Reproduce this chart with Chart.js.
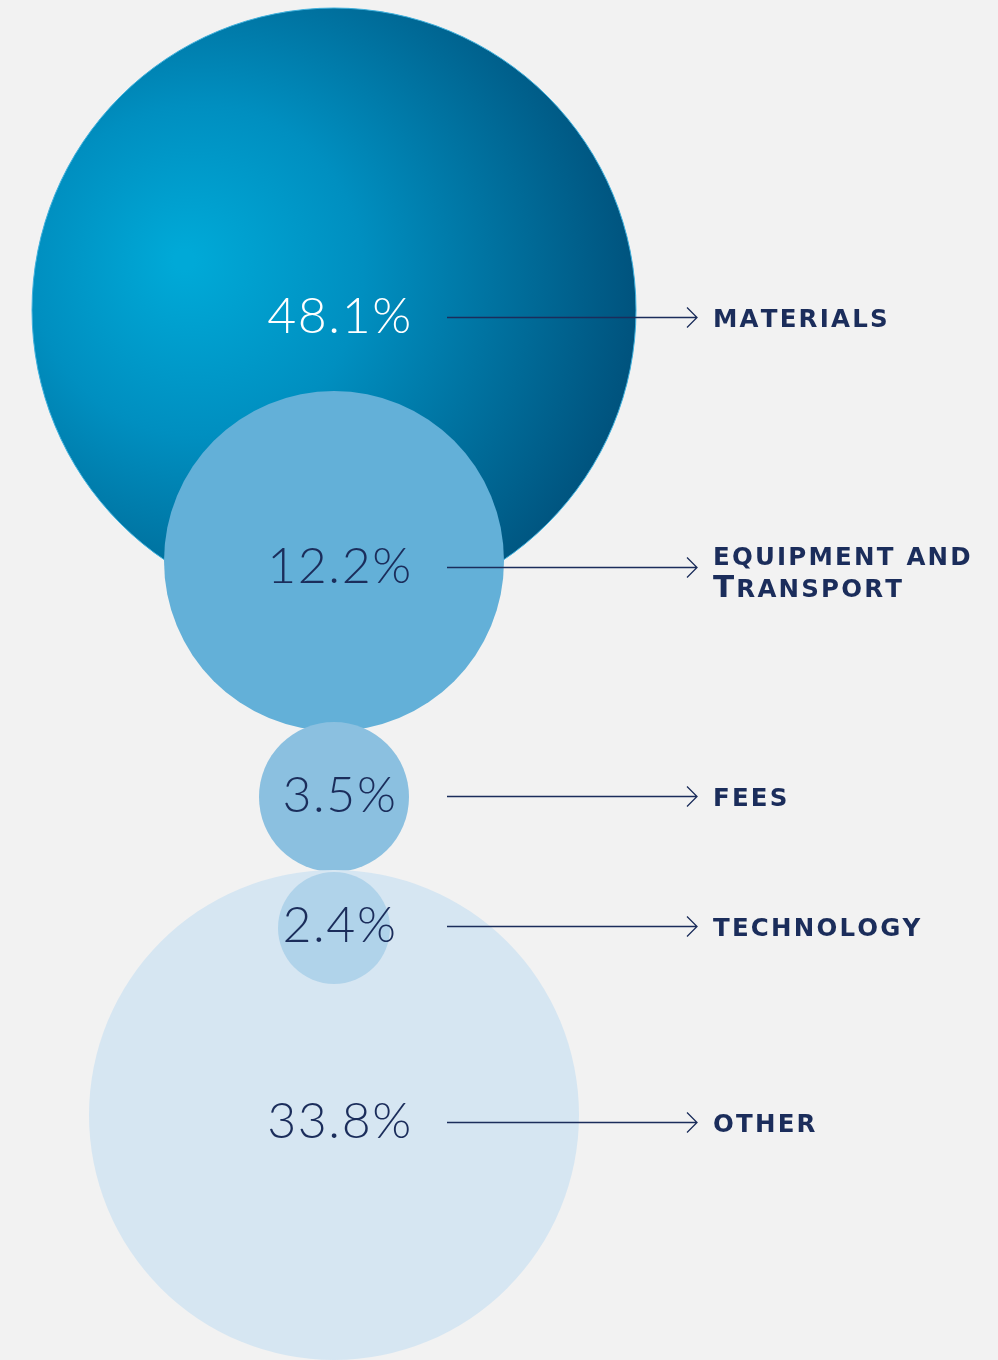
<!DOCTYPE html>
<html>
<head>
<meta charset="utf-8">
<script src="https://cdn.jsdelivr.net/npm/chart.js@4.4.1/dist/chart.umd.min.js"></script>
<style>
  html, body { margin: 0; padding: 0; background: #f2f2f2; }
  canvas { display: block; }
</style>
</head>
<body>
<canvas id="bubbles" width="998" height="1360"></canvas>
<script>
// data
var categories = ['materials', 'equipment and\nTransport', 'fees', 'technology', 'other'];
var shares = [48.1, 12.2, 3.5, 2.4, 33.8];

// layout (canvas units, the scales run 0..998 and 0..1360)
var bubbleX = 334;
var bubbleY = [310, 561, 797, 928, 1115];
var bubbleR = [302, 170, 75, 56, 245];
var labelShift = [7, 6, -1, -2, 7];   // label row relative to bubble centre
var drawOrder = [4, 3, 2, 0, 1];      // lower = on top
var fills = ['gradient', '#63b0d8', '#8bc0e0', '#b0d3ea', '#d6e6f2'];
var navy = '#1b2d5b';

function materialsGradient(context) {
    var chart = context.chart;
    if (!chart.scales || !chart.scales.x) return '#0089bd';
    var cx = chart.scales.x.getPixelForValue(bubbleX);
    var cy = chart.scales.y.getPixelForValue(bubbleY[0]);
    if (!isFinite(cx) || !isFinite(cy)) return '#0089bd';
    var r = bubbleR[0];
    var g = chart.ctx.createRadialGradient(cx - 150, cy - 50, 10, cx - 110, cy - 20, r * 1.5);
    g.addColorStop(0, '#00a9d7');
    g.addColorStop(0.35, '#008fc0');
    g.addColorStop(0.7, '#006a97');
    g.addColorStop(1, '#004a74');
    return g;
}

var datasets = categories.map(function (c, i) {
    return {
        label: c,
        data: [{ x: bubbleX, y: bubbleY[i], r: bubbleR[i] }],
        backgroundColor: fills[i] === 'gradient' ? materialsGradient : fills[i],
        borderColor: i === 0 ? '#3fb0dc' : fills[i],
        borderWidth: i === 0 ? 1 : 0,
        hoverRadius: 0,
        order: drawOrder[i],
        clip: false
    };
});

// draws the small caps text: capitals in the source are big, lowercase letters are small caps
function drawSmallCaps(ctx, text, x, y, big, small) {
    var cx = x;
    for (var k = 0; k < text.length; k++) {
        var ch = text[k];
        var isCap = ch !== ch.toLowerCase();
        ctx.font = 'bold ' + (isCap ? big : small) + 'px "DejaVu Sans"';
        ctx.fillText(ch.toUpperCase(), cx, y);
        cx += ctx.measureText(ch.toUpperCase()).width + 2.2;
    }
}

var labelsPlugin = {
    id: 'bubbleLabels',
    afterDatasetsDraw: function (chart) {
        var ctx = chart.ctx;
        ctx.save();
        categories.forEach(function (c, i) {
            var el = chart.getDatasetMeta(i).data[0];
            var ty = el.y + labelShift[i];
            // percentage
            ctx.font = '300 50px "Lato"';
            ctx.letterSpacing = '1.6px';
            ctx.fillStyle = i === 0 ? '#ffffff' : navy;
            ctx.textAlign = 'center';
            ctx.textBaseline = 'middle';
            ctx.fillText(shares[i].toFixed(1) + '%', el.x + 6, ty);
            ctx.letterSpacing = '0px';
            // arrow
            ctx.strokeStyle = navy;
            ctx.lineWidth = 1.3;
            ctx.beginPath();
            ctx.moveTo(447, ty + 0.5);
            ctx.lineTo(697, ty + 0.5);
            ctx.moveTo(687, ty - 9.5);
            ctx.lineTo(697, ty + 0.5);
            ctx.lineTo(687, ty + 10.5);
            ctx.stroke();
            // category label
            ctx.fillStyle = navy;
            ctx.textAlign = 'left';
            ctx.textBaseline = 'alphabetic';
            var lines = c.split('\n');
            var startY = ty + 10 - (lines.length - 1) * 12;
            lines.forEach(function (line, j) {
                drawSmallCaps(ctx, line, 713, startY + j * 32, 31, 24.5);
            });
        });
        ctx.restore();
    }
};

var ctx = document.getElementById('bubbles').getContext('2d');
var myChart = new Chart(ctx, {
    type: 'bubble',
    data: { datasets: datasets },
    options: {
        responsive: false,
        animation: false,
        events: [],
        layout: { padding: 0, autoPadding: false },
        plugins: {
            legend: { display: false },
            tooltip: { enabled: false }
        },
        scales: {
            x: { type: 'linear', min: 0, max: 998, display: false },
            y: { type: 'linear', min: 0, max: 1360, reverse: true, display: false }
        }
    },
    plugins: [labelsPlugin]
});
</script>
</body>
</html>
